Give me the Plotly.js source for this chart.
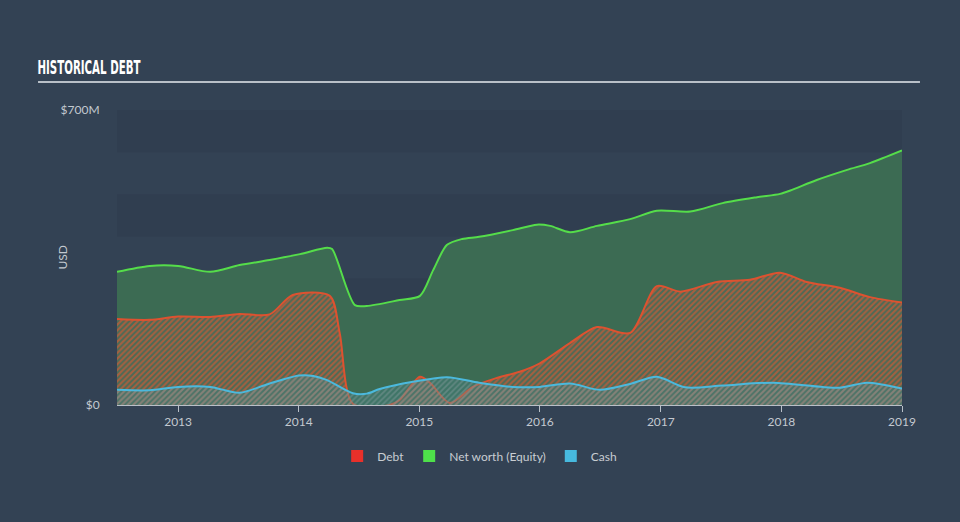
<!DOCTYPE html>
<html>
<head>
<meta charset="utf-8">
<script src="https://cdn.plot.ly/plotly-3.0.1.min.js"></script>
<style>
html,body{margin:0;padding:0;background:#334254;}
#chart{width:960px;height:522px;}
</style>
</head>
<body>
<div id="chart"></div>
<script>
// Net worth (Equity), USD millions
const equityDates = ["2012-06-30","2012-10-07","2013-01-01","2013-04-08","2013-07-06","2013-10-05","2014-01-05","2014-03-28","2014-04-12","2014-06-20","2014-07-26","2014-11-02","2015-01-03","2015-02-12","2015-03-26","2015-05-11","2015-07-01","2015-10-11","2015-12-23","2016-02-01","2016-04-01","2016-06-22","2016-09-30","2016-12-20","2017-03-31","2017-07-07","2017-10-19","2017-12-28","2018-01-28","2018-04-18","2018-07-19","2018-09-26","2019-01-01"];
const equityValues = [316,330,330,316,332,344,358,373,370,237,235,249,259,320,380,394,399,415,428,425,410,425,441,461,459,479,493,501,509,534,558,574,604];

// Debt, USD millions
const debtDates = ["2012-06-30","2012-10-07","2013-01-01","2013-04-08","2013-07-06","2013-10-05","2013-12-14","2014-04-05","2014-05-05","2014-06-14","2014-10-03","2014-11-02","2015-01-03","2015-02-03","2015-04-03","2015-06-12","2015-08-23","2015-11-01","2016-01-01","2016-04-01","2016-06-22","2016-09-30","2016-12-20","2017-03-01","2017-06-20","2017-09-28","2017-12-28","2018-03-18","2018-06-27","2018-09-26","2019-01-01"];
const debtValues = [204,202,210,209,216,215,261,259,171,3,0,12,67,52,5,43,64,79,99,147,185,171,282,269,292,297,314,292,278,256,243];

// Cash, USD millions
const cashDates = ["2012-06-30","2012-10-07","2013-01-01","2013-04-08","2013-07-06","2013-10-01","2014-01-01","2014-02-14","2014-03-28","2014-06-14","2014-07-26","2014-09-03","2014-12-13","2015-03-26","2015-07-01","2015-10-11","2016-01-01","2016-04-01","2016-07-01","2016-09-30","2016-12-20","2017-03-15","2017-07-07","2017-12-07","2018-06-27","2018-09-17","2019-01-01"];
const cashValues = [36,35,43,43,29,50,70,69,59,28,27,38,55,66,53,43,43,51,36,50,67,42,46,53,41,53,39];

const yTickVals = [0,700];
const yTickText = ["$0","$700M"];
const xTickVals = ["2013-01-01","2014-01-01","2015-01-01","2016-01-01","2017-01-01","2018-01-01","2019-01-01"];
const xTickText = ["2013","2014","2015","2016","2017","2018","2019"];
const bandStarts = [0,200,400,600];

const traces = [
  {x: equityDates, y: equityValues, type:'scatter', mode:'lines', fill:'tozeroy',
   line:{color:'#55dd4a', width:2, shape:'spline', smoothing:0.8},
   fillcolor:'rgb(60,107,83)', showlegend:false, hoverinfo:'skip'},
  {x: debtDates, y: debtValues, type:'scatter', mode:'lines', fill:'tozeroy',
   line:{color:'#dd5230', width:2, shape:'spline', smoothing:0.8},
   fillcolor:'rgba(0,0,0,0)',
   fillpattern:{shape:'/', size:4, solidity:0.5, fgcolor:'rgba(190,92,58,0.8)', bgcolor:'rgba(100,105,90,0.35)'},
   showlegend:false, hoverinfo:'skip'},
  {x: cashDates, y: cashValues, type:'scatter', mode:'lines', fill:'tozeroy',
   line:{color:'#4bb9dd', width:2, shape:'spline', smoothing:0.8},
   fillcolor:'rgba(0,0,0,0)',
   fillpattern:{shape:'/', size:4, solidity:0.45, fgcolor:'rgba(125,150,150,0.55)', bgcolor:'rgba(70,140,150,0.3)'},
   showlegend:false, hoverinfo:'skip'},
  {x:[null], y:[null], type:'bar', name:'Debt', marker:{color:'#e8302a'}},
  {x:[null], y:[null], type:'bar', name:'Net worth (Equity)', marker:{color:'#4ee04a'}},
  {x:[null], y:[null], type:'bar', name:'Cash', marker:{color:'#47b9de'}}
];

const shapes = bandStarts.map(b => ({
  type:'rect', xref:'paper', yref:'y', x0:0, x1:1, y0:b, y1:b+100,
  fillcolor:'rgba(30,42,56,0.13)', line:{width:0}, layer:'below'
}));
shapes.push({type:'line', xref:'paper', yref:'paper', x0:-0.1006, x1:1.0229, y0:1.0949, y1:1.0949,
  line:{color:'#b9c0c8', width:2}});

const layout = {
  width:960, height:522,
  paper_bgcolor:'#334254', plot_bgcolor:'rgba(0,0,0,0)',
  margin:{l:117, r:58, t:110, b:117},
  font:{family:'Lato, "Open Sans", sans-serif', color:'#c3c9d0', size:12},
  title:{text:'<b>HISTORICAL DEBT</b>', font:{family:'"DejaVu Sans Condensed", "Liberation Sans Narrow", sans-serif', size:19, color:'#ffffff'},
    xref:'container', yref:'container', x:0.039, xanchor:'left', y:1-67/522, yanchor:'middle'},
  xaxis:{type:'date', range:['2012-06-30','2019-01-01'], tickvals:xTickVals, ticktext:xTickText,
    showgrid:false, zeroline:false, showline:true, linecolor:'#b9c0c8', linewidth:1,
    ticks:'outside', ticklen:6, tickcolor:'#b9c0c8', tickfont:{size:12, color:'#c3c9d0'}},
  yaxis:{range:[0,700], tickvals:yTickVals, ticktext:yTickText, showgrid:false, zeroline:false,
    ticks:'outside', ticklen:14, tickcolor:'rgba(0,0,0,0)', tickfont:{size:12, color:'#c3c9d0'}},
  annotations:[{text:'USD', xref:'paper', yref:'paper', x:-0.070, y:0.5, textangle:-90, showarrow:false,
    font:{size:12, color:'#c3c9d0'}, xanchor:'center', yanchor:'middle'}],
  legend:{orientation:'h', x:0.462, xanchor:'center', y:-0.173, yanchor:'middle', font:{size:12, color:'#c8cdd2'}, bgcolor:'rgba(0,0,0,0)'},
  shapes:shapes,
  showlegend:true
};

Plotly.newPlot('chart', traces, layout, {displayModeBar:false, staticPlot:true}).then(function(gd){
  // narrow the title glyphs to mimic the condensed display face
  const t = gd.querySelector('.gtitle');
  if (t) {
    const x = parseFloat(t.getAttribute('x')) || 0;
    t.setAttribute('transform', 'translate(' + x + ',0) scale(0.6,1) translate(' + (-x) + ',0)');
  }
});
</script>
</body>
</html>
